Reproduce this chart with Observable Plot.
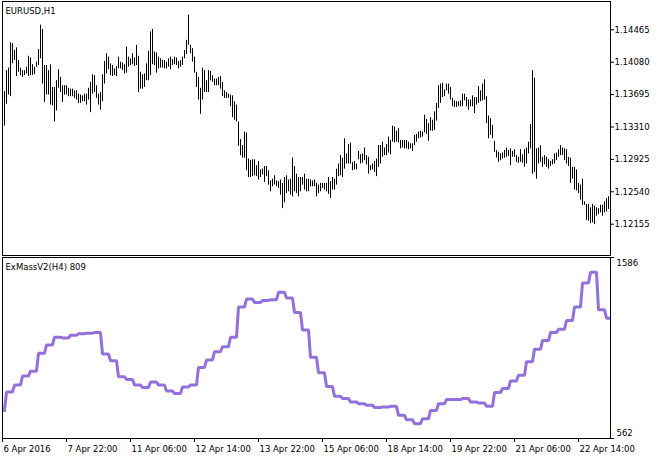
<!DOCTYPE html>
<html><head><meta charset="utf-8">
<script src="https://cdn.jsdelivr.net/npm/d3@7"></script>
<script src="https://cdn.jsdelivr.net/npm/@observablehq/plot@0.6"></script>
<style>
body{margin:0;background:#fff;}
#wrap{position:relative;width:662px;height:459px;background:#fff;overflow:hidden;}
#paneTop,#paneBot{position:absolute;left:0;}
#paneTop{top:0;} #paneBot{top:256px;}
svg{display:block;}
</style></head><body>
<div id="wrap"><div id="paneTop"></div><div id="paneBot"></div></div>
<script>
const symbolTitle = "EURUSD,H1";
const indicatorTitle = "ExMassV2(H4) 809";

const high = [1.1373,1.1398,1.1401,1.1431,1.1430,1.1422,1.1425,1.1410,1.1401,1.1398,
1.1398,1.1402,1.1415,1.1413,1.1405,1.1402,1.1408,1.1423,1.1452,1.1447,
1.1404,1.1404,1.1398,1.1405,1.1378,1.1378,1.1386,1.1399,1.1390,1.1380,
1.1380,1.1380,1.1377,1.1376,1.1376,1.1374,1.1374,1.1370,1.1369,1.1368,
1.1370,1.1370,1.1377,1.1384,1.1393,1.1392,1.1380,1.1370,1.1372,1.1393,
1.1409,1.1418,1.1414,1.1406,1.1404,1.1400,1.1403,1.1414,1.1408,1.1407,
1.1405,1.1426,1.1414,1.1412,1.1418,1.1413,1.1428,1.1415,1.1396,1.1393,
1.1394,1.1406,1.1421,1.1444,1.1447,1.1420,1.1419,1.1414,1.1412,1.1410,
1.1410,1.1408,1.1412,1.1414,1.1411,1.1414,1.1413,1.1409,1.1410,1.1414,
1.1422,1.1434,1.1464,1.1428,1.1424,1.1414,1.1396,1.1390,1.1377,1.1401,
1.1398,1.1386,1.1398,1.1397,1.1392,1.1388,1.1388,1.1390,1.1391,1.1384,
1.1374,1.1372,1.1370,1.1369,1.1368,1.1361,1.1357,1.1337,1.1316,1.1309,
1.1325,1.1324,1.1293,1.1291,1.1292,1.1292,1.1285,1.1290,1.1280,1.1281,
1.1284,1.1284,1.1279,1.1267,1.1269,1.1273,1.1267,1.1266,1.1268,1.1264,
1.1271,1.1273,1.1268,1.1269,1.1294,1.1284,1.1275,1.1271,1.1271,1.1271,
1.1275,1.1269,1.1269,1.1268,1.1267,1.1268,1.1264,1.1262,1.1264,1.1264,
1.1264,1.1264,1.1271,1.1266,1.1271,1.1269,1.1281,1.1287,1.1297,1.1294,
1.1317,1.1299,1.1310,1.1312,1.1289,1.1290,1.1287,1.1302,1.1298,1.1299,
1.1306,1.1297,1.1295,1.1285,1.1287,1.1290,1.1293,1.1309,1.1309,1.1313,
1.1306,1.1310,1.1319,1.1315,1.1332,1.1331,1.1326,1.1329,1.1315,1.1315,
1.1315,1.1315,1.1313,1.1311,1.1311,1.1321,1.1322,1.1325,1.1326,1.1325,
1.1345,1.1340,1.1335,1.1342,1.1339,1.1349,1.1359,1.1380,1.1382,1.1383,
1.1375,1.1382,1.1382,1.1378,1.1365,1.1362,1.1361,1.1361,1.1362,1.1370,
1.1370,1.1366,1.1363,1.1363,1.1368,1.1366,1.1366,1.1379,1.1374,1.1382,
1.1387,1.1367,1.1344,1.1341,1.1333,1.1314,1.1303,1.1301,1.1299,1.1300,
1.1303,1.1306,1.1303,1.1305,1.1302,1.1304,1.1297,1.1295,1.1304,1.1298,
1.1304,1.1306,1.1313,1.1334,1.1398,1.1389,1.1305,1.1306,1.1309,1.1295,
1.1297,1.1295,1.1292,1.1290,1.1292,1.1299,1.1300,1.1304,1.1309,1.1306,
1.1305,1.1304,1.1295,1.1294,1.1283,1.1283,1.1280,1.1264,1.1262,1.1269,
1.1242,1.1239,1.1239,1.1235,1.1239,1.1237,1.1235,1.1234,1.1238,1.1238,
1.1242,1.1246,1.1248];

const low = [1.1332,1.1358,1.1369,1.1367,1.1406,1.1410,1.1391,1.1396,1.1392,1.1390,
1.1392,1.1394,1.1391,1.1392,1.1392,1.1393,1.1402,1.1404,1.1412,1.1382,
1.1360,1.1369,1.1369,1.1357,1.1356,1.1337,1.1350,1.1377,1.1372,1.1360,
1.1369,1.1369,1.1367,1.1367,1.1367,1.1365,1.1363,1.1359,1.1359,1.1361,
1.1361,1.1357,1.1363,1.1348,1.1370,1.1372,1.1365,1.1357,1.1351,1.1361,
1.1382,1.1394,1.1399,1.1392,1.1391,1.1392,1.1391,1.1400,1.1400,1.1398,
1.1394,1.1395,1.1402,1.1404,1.1405,1.1403,1.1404,1.1372,1.1376,1.1376,
1.1378,1.1386,1.1386,1.1392,1.1405,1.1404,1.1395,1.1400,1.1401,1.1401,
1.1400,1.1400,1.1402,1.1399,1.1404,1.1405,1.1404,1.1400,1.1402,1.1404,
1.1412,1.1417,1.1428,1.1418,1.1408,1.1395,1.1378,1.1363,1.1346,1.1363,
1.1372,1.1372,1.1372,1.1386,1.1384,1.1380,1.1380,1.1380,1.1376,1.1367,
1.1365,1.1365,1.1365,1.1355,1.1342,1.1339,1.1337,1.1308,1.1297,1.1294,
1.1294,1.1279,1.1271,1.1271,1.1272,1.1273,1.1272,1.1268,1.1271,1.1274,
1.1265,1.1272,1.1262,1.1254,1.1260,1.1262,1.1260,1.1258,1.1250,1.1234,
1.1241,1.1252,1.1254,1.1250,1.1248,1.1254,1.1252,1.1248,1.1254,1.1262,
1.1256,1.1254,1.1254,1.1260,1.1260,1.1260,1.1248,1.1252,1.1254,1.1258,
1.1256,1.1254,1.1251,1.1246,1.1256,1.1256,1.1262,1.1272,1.1273,1.1271,
1.1281,1.1287,1.1287,1.1287,1.1279,1.1280,1.1280,1.1292,1.1287,1.1288,
1.1291,1.1286,1.1275,1.1279,1.1280,1.1277,1.1272,1.1283,1.1287,1.1295,
1.1297,1.1297,1.1300,1.1298,1.1313,1.1312,1.1313,1.1312,1.1305,1.1306,
1.1305,1.1305,1.1304,1.1305,1.1302,1.1309,1.1313,1.1317,1.1318,1.1319,
1.1324,1.1322,1.1314,1.1326,1.1326,1.1327,1.1338,1.1353,1.1359,1.1366,
1.1367,1.1374,1.1370,1.1363,1.1355,1.1354,1.1354,1.1355,1.1355,1.1355,
1.1362,1.1355,1.1351,1.1355,1.1355,1.1347,1.1357,1.1359,1.1361,1.1362,
1.1363,1.1335,1.1317,1.1321,1.1317,1.1301,1.1294,1.1289,1.1291,1.1293,
1.1294,1.1295,1.1296,1.1285,1.1295,1.1295,1.1289,1.1288,1.1289,1.1288,
1.1283,1.1287,1.1299,1.1305,1.1275,1.1277,1.1269,1.1287,1.1289,1.1283,
1.1286,1.1283,1.1281,1.1284,1.1286,1.1287,1.1291,1.1295,1.1297,1.1297,
1.1291,1.1287,1.1284,1.1264,1.1269,1.1256,1.1255,1.1252,1.1244,1.1238,
1.1238,1.1220,1.1219,1.1216,1.1217,1.1215,1.1225,1.1227,1.1229,1.1225,
1.1229,1.1230,1.1233];

// ExMassV2 values, one per H4 bar
const massH4 = [721,825,864,915,943,1044,1091,1135,1131,1146,1154,1158,1161,1040,1002,911,
896,864,850,882,864,831,816,854,864,964,1006,1053,1081,1135,1306,1351,1332,1343,1347,1389,
1357,1275,1176,1021,934,856,801,788,769,759,750,737,740,744,693,668,646,674,721,759,782,782,
788,769,763,744,822,845,888,920,996,1067,1116,1161,1180,1229,1306,1442,1502,1290,1243];

const priceTicks = [1.12155,1.12540,1.12925,1.13310,1.13695,1.14080,1.14465];
const massTicks = [562,1586];
const timeTickBars = [-1,31,63,95,127,159,191,223,255,287];
const timeTickLabels = ["6 Apr 2016","7 Apr 22:00","11 Apr 06:00","12 Apr 14:00","13 Apr 22:00",
"15 Apr 06:00","18 Apr 14:00","19 Apr 22:00","21 Apr 06:00","22 Apr 14:00"];

const FONT = "'DejaVu Sans', Verdana, sans-serif";
const FS = 8.5;
const bars = high.map((h, i) => ({i, hi: h, lo: low[i]}));
const mass = high.map((_, i) => ({i, v: massH4[Math.floor((i + 3) / 4)]}));
const xDomain = [-1, high.length];

const pricePlot = Plot.plot({
  width: 662, height: 256,
  marginLeft: 2, marginRight: 52, marginTop: 1, marginBottom: 1,
  style: {fontFamily: FONT, fontSize: FS + "px", background: "#fff", color: "#000"},
  x: {domain: xDomain, axis: null, label: null},
  y: {domain: [1.11783, 1.14801], label: null},
  marks: [
    Plot.frame({stroke: "#000"}),
    Plot.ruleX(bars, {x: "i", y1: "lo", y2: "hi", stroke: "#000", strokeWidth: 1}),
    Plot.axisY(priceTicks, {anchor: "right", tickSize: 3, tickPadding: 1, label: null,
      tickFormat: d3.format(".5f"), fontSize: FS}),
    Plot.text([symbolTitle], {frameAnchor: "top-left", text: d => d, dx: 3, dy: 6,
      lineAnchor: "top", textAnchor: "start", fontSize: FS, fill: "#000"})
  ]
});
document.getElementById("paneTop").appendChild(pricePlot);

const massPlot = Plot.plot({
  width: 662, height: 203,
  marginLeft: 2, marginRight: 52, marginTop: 1, marginBottom: 21,
  style: {fontFamily: FONT, fontSize: FS + "px", background: "#fff", color: "#000"},
  x: {domain: xDomain, label: null},
  y: {domain: [562, 1586], label: null},
  marks: [
    Plot.frame({stroke: "#000"}),
    Plot.line(mass, {x: "i", y: "v", stroke: "#9370DB", strokeWidth: 3,
      strokeLinejoin: "miter", strokeLinecap: "square"}),
    Plot.axisX(timeTickBars, {anchor: "bottom", tickSize: 4, fill: "none", label: null}),
    Plot.axisX(timeTickBars, {anchor: "bottom", tickSize: 4, tickPadding: 3, stroke: "none",
      textAnchor: "start", dx: 1, label: null, fontSize: FS,
      tickFormat: d => timeTickLabels[timeTickBars.indexOf(d)]}),
    Plot.axisY(massTicks, {anchor: "right", tickSize: 3, fill: "none", label: null}),
    Plot.axisY([massTicks[1]], {anchor: "right", tickSize: 3, tickPadding: 3, stroke: "none",
      dy: 6, label: null, fontSize: FS, tickFormat: d => String(d)}),
    Plot.axisY([massTicks[0]], {anchor: "right", tickSize: 3, tickPadding: 3, stroke: "none",
      dy: -5, label: null, fontSize: FS, tickFormat: d => String(d)}),
    Plot.text([indicatorTitle], {frameAnchor: "top-left", text: d => d, dx: 3, dy: 6.5,
      lineAnchor: "top", textAnchor: "start", fontSize: FS, fill: "#000"})
  ]
});
document.getElementById("paneBot").appendChild(massPlot);
</script>
</body></html>
